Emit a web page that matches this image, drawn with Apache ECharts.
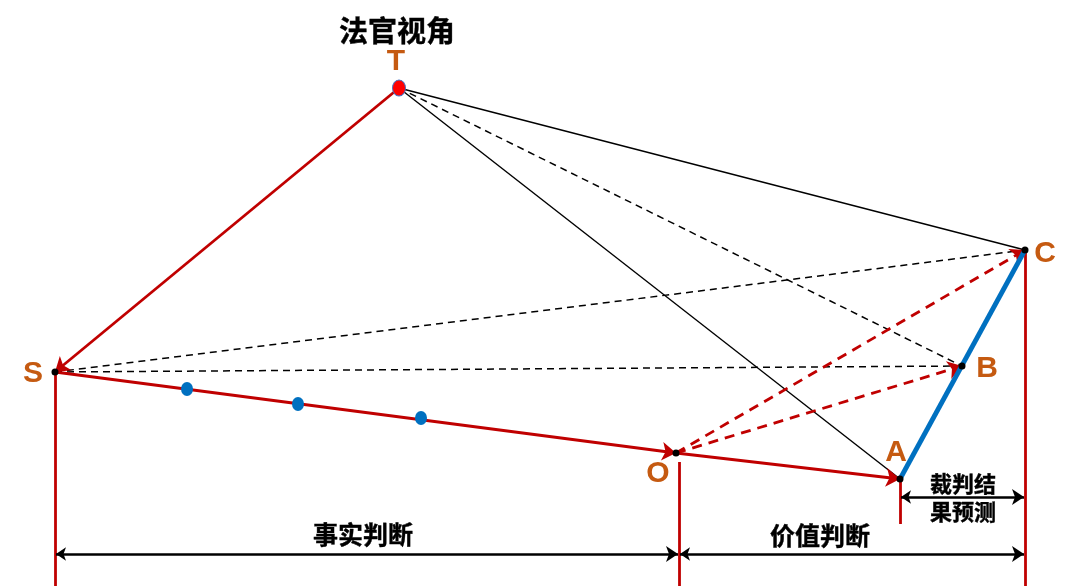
<!DOCTYPE html>
<html><head><meta charset="utf-8">
<script src="https://cdn.jsdelivr.net/npm/echarts@6/dist/echarts.min.js"></script>
<style>html,body{margin:0;padding:0;background:#fff}#c{width:1080px;height:586px}</style>
</head><body><div id="c"></div>
<script>
// Key points of the diagram (data coordinates, y downward)
const pointNames = ['T', 'S', 'O', 'A', 'B', 'C'];
const pointX = [399, 55, 676, 900, 962, 1025];
const pointY = [88, 372, 453, 479, 366, 250];
// Intermediate fact points on S→O
const factX = [187, 298, 421];
const factY = [389, 404, 418];
// Edges
const redSolidEdges = [['T', 'S'], ['S', 'O'], ['O', 'A']];
const redDashedEdges = [['O', 'B'], ['O', 'C']];
const blackSolidEdges = [['T', 'C'], ['T', 'A']];
const blackDashedEdges = [['T', 'B'], ['S', 'C'], ['S', 'B']];
const blueEdges = [['A', 'C']];
// Texts
const title = '法官视角';
const spanLabels = ['事实判断', '价值判断'];
const predictLabel = ['裁判结', '果预测'];

const P = n => [pointX[pointNames.indexOf(n)], pointY[pointNames.indexOf(n)]];
const edgeData = list => list.map(e => ({ coords: [P(e[0]), P(e[1])] }));

const RED = '#C00000', BLUE = '#0070C0', ORANGE = '#C55A11';
const BOTTOM = 586, dimY = 554, predY = 497;

const vertData = [
  { coords: [[P('S')[0], P('S')[1]], [P('S')[0], BOTTOM]] },
  { coords: [[P('O')[0] + 3, P('O')[1] + 9], [P('O')[0] + 3, BOTTOM]] },
  { coords: [[P('A')[0], P('A')[1]], [P('A')[0], 524]] },
  { coords: [[P('C')[0], P('C')[1]], [P('C')[0], BOTTOM]] }
];
const dimData = [
  { coords: [[P('S')[0] + 1, dimY], [P('O')[0] + 2, dimY]] },
  { coords: [[P('O')[0] + 4, dimY], [P('C')[0] - 1, dimY]] },
  { coords: [[P('A')[0] + 1, predY], [P('C')[0] - 1, predY]] }
];

const labelFont = { fontFamily: 'Liberation Sans, Arial, sans-serif', fontWeight: 'bold', fontSize: 30, color: ORANGE };
const labelOffsets = { T: [-3, -26], S: [-22, 2], O: [-18, 21], A: [-4, -26], B: [25, 3], C: [20, 4] };
const cjkFont = 'Noto Sans CJK SC';

const chart = echarts.init(document.getElementById('c'));
chart.setOption({
  animation: false,
  grid: { left: 0, right: 0, top: 0, bottom: 0 },
  xAxis: { type: 'value', min: 0, max: 1080, show: false },
  yAxis: { type: 'value', min: 0, max: 586, inverse: true, show: false },
  series: [
    { type: 'lines', coordinateSystem: 'cartesian2d', z: 2, symbol: 'none',
      lineStyle: { color: RED, width: 2.8, type: 'solid', opacity: 1, curveness: 0 }, data: vertData },
    { type: 'lines', coordinateSystem: 'cartesian2d', z: 2, symbol: 'none',
      lineStyle: { color: '#000', width: 1.4, type: 'solid', opacity: 1 }, data: edgeData(blackSolidEdges) },
    { type: 'lines', coordinateSystem: 'cartesian2d', z: 2, symbol: 'none',
      lineStyle: { color: '#000', width: 1.5, type: [7, 5], opacity: 1 }, data: edgeData(blackDashedEdges) },
    { type: 'lines', coordinateSystem: 'cartesian2d', z: 3, symbol: ['none', 'arrow'], symbolSize: [11, 14],
      lineStyle: { color: RED, width: 2.8, type: [10, 7], opacity: 1 }, data: edgeData(redDashedEdges) },
    { type: 'lines', coordinateSystem: 'cartesian2d', z: 3, symbol: ['none', 'arrow'], symbolSize: [11, 14],
      lineStyle: { color: RED, width: 2.8, type: 'solid', opacity: 1 }, data: edgeData(redSolidEdges) },
    { type: 'lines', coordinateSystem: 'cartesian2d', z: 3, symbol: 'none',
      lineStyle: { color: BLUE, width: 4.8, type: 'solid', opacity: 1 }, data: edgeData(blueEdges) },
    { type: 'lines', coordinateSystem: 'cartesian2d', z: 3, symbol: ['arrow', 'arrow'], symbolSize: [10, 12],
      lineStyle: { color: '#000', width: 2.5, type: 'solid', opacity: 1 }, data: dimData },
    // blue fact dots
    { type: 'scatter', z: 5, symbol: 'circle', symbolSize: [12, 14],
      itemStyle: { color: BLUE, opacity: 1 },
      data: factX.map((x, i) => [x, factY[i]]) },
    // key points
    { type: 'scatter', z: 6,
      data: pointNames.map((n, i) => ({
        value: [pointX[i], pointY[i]],
        symbol: 'circle',
        symbolSize: n === 'T' ? [13, 16] : 7,
        itemStyle: n === 'T' ? { color: '#FF0000', borderColor: '#4472C4', borderWidth: 1, opacity: 1 } : { color: '#000', opacity: 1 },
        label: { show: true, formatter: n, position: 'inside', offset: labelOffsets[n], ...labelFont }
      })) },
    // annotation texts
    { type: 'scatter', z: 7, symbol: 'circle', symbolSize: 1, silent: true,
      itemStyle: { color: 'rgba(0,0,0,0)', opacity: 1 },
      label: { show: true, position: 'inside', fontFamily: cjkFont, fontWeight: 'bold', color: '#000',
               textBorderColor: '#000', textBorderWidth: 0.4 },
      data: [
        { value: [397, 31], label: { formatter: title, fontSize: 29 } },
        { value: [363, 534], label: { formatter: spanLabels[0], fontSize: 25 } },
        { value: [820, 535], label: { formatter: spanLabels[1], fontSize: 25 } },
        { value: [963, 484], label: { formatter: predictLabel[0], fontSize: 22 } },
        { value: [963, 512], label: { formatter: predictLabel[1], fontSize: 22 } }
      ] }
  ]
});
</script>
</body></html>
